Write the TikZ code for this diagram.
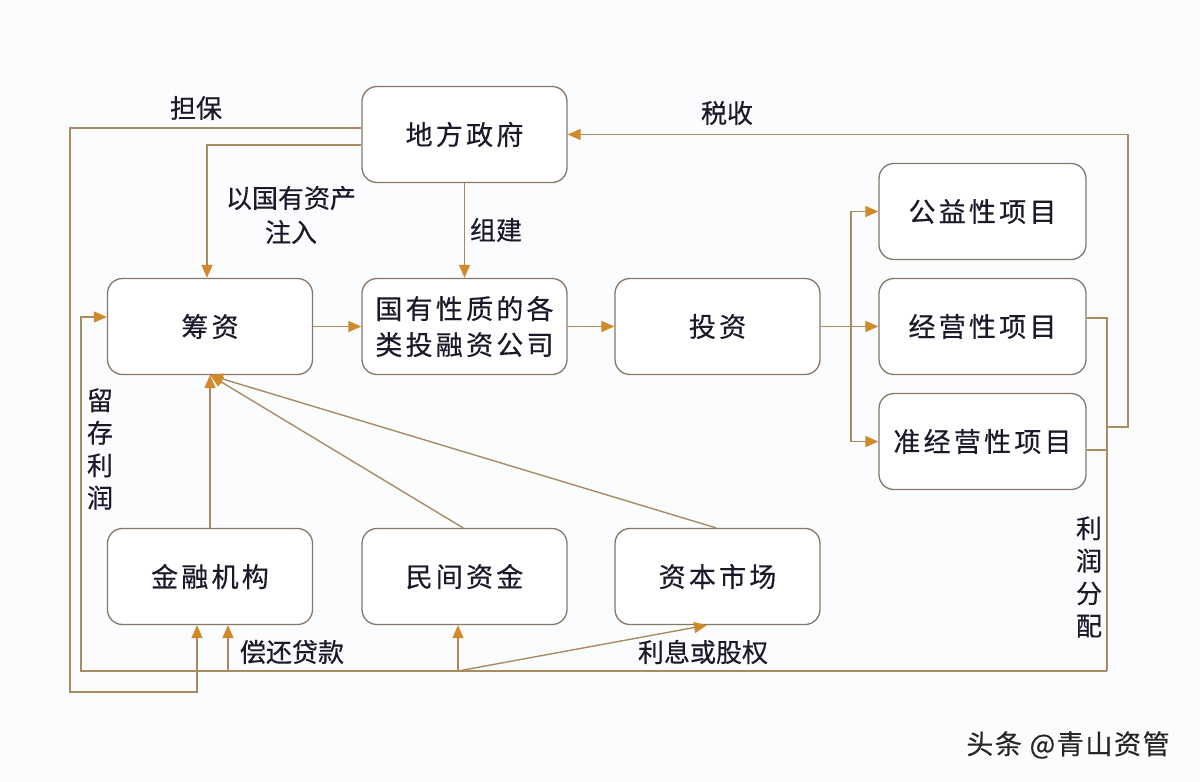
\documentclass[tikz,border=0pt]{standalone}
\usepackage{fontspec}
\setmainfont{Noto Sans CJK SC}
\newfontfamily\cjk{Noto Sans CJK SC}
\usetikzlibrary{arrows.meta}
\definecolor{bgc}{HTML}{FBFCFE}
\definecolor{linec}{HTML}{A98B62}
\definecolor{tipc}{HTML}{D08A2A}
\definecolor{boxc}{HTML}{85786A}
\definecolor{txtc}{HTML}{1A1A2A}
\tikzset{
  box/.style={draw=boxc, line width=1.3pt, rounded corners=15pt, fill=white,
    minimum width=205pt, minimum height=96pt, inner sep=0pt, align=center,
    text=txtc, font=\fontsize{27pt}{36pt}\selectfont\addfontfeature{LetterSpace=12,FakeBold=0.4}},
  conn/.style={draw=linec, line width=1.4pt},
  arr/.style={conn, -{Triangle[length=13pt,width=11pt,fill=tipc,color=tipc]}},
  lab/.style={text=txtc, inner sep=0pt, font=\fontsize{26pt}{33pt}\selectfont\addfontfeature{FakeBold=0.4}},
}
\begin{document}
\begin{tikzpicture}[x=1pt,y=-1pt]
\fill[bgc] (0,0) rectangle (1200,782);
\useasboundingbox (0,0) rectangle (1200,782);

% boxes
\node[box] (gov)  at (464.5,134.5) {地方政府};
\node[box] (chou) at (210,326.5)   {筹资};
\node[box] (guo)  at (464.5,326.5) {国有性质的各\\类投融资公司};
\node[box] (tou)  at (717.5,326.5) {投资};
\node[box, minimum width=207pt] (gy)  at (982.5,211.5) {公益性项目};
\node[box, minimum width=207pt] (jy)  at (982.5,326.5) {经营性项目};
\node[box, minimum width=207pt] (zjy) at (982.5,441.5) {准经营性项目};
\node[box] (jr) at (210,576.5)   {金融机构};
\node[box] (mj) at (464.5,576.5) {民间资金};
\node[box] (zb) at (717.5,576.5) {资本市场};

% helper coordinates
\coordinate (br) at (851,326.5);
\coordinate (rv) at (1107,671);
\coordinate (bl) at (81,671);
\coordinate (p1) at (228,671);
\coordinate (p2) at (458,671);
\coordinate (tx) at (1128,427);
\coordinate (ol) at (70,692);

% 担保
\draw[arr] ([yshift=6.5pt]gov.west) -| (ol) -| ([xshift=-13pt]jr.south);
% 以国有资产注入
\draw[arr] ([yshift=-10.5pt]gov.west) -| ([xshift=-3pt]chou.north);
% 组建
\draw[arr] (gov.south) -- (guo.north);
% main chain
\draw[arr] (chou.east) -- (guo.west);
\draw[arr] (guo.east) -- (tou.west);
\draw[conn] (tou.east) -- (br);
\draw[arr] (br) |- (gy.west);
\draw[arr] (br) -- (jy.west);
\draw[arr] (br) |- (zjy.west);
% profits
\draw[conn] ([yshift=8.5pt]jy.east) -| (rv);
\draw[conn] ([yshift=-8.5pt]zjy.east) -- (1107,450);
% 税收
\draw[arr] (1107,427) -- (tx) |- (gov.east);
% 留存利润
\draw[arr] (rv) -- (bl) |- ([yshift=9.5pt]chou.west);
% 偿还贷款
\draw[arr] (p1) -- ([xshift=18pt]jr.south);
% 利息或股权
\draw[arr] (p2) -- ([xshift=-6.5pt]mj.south);
\draw[arr] (p2) -- ([xshift=-10.5pt]zb.south);
% sources to 筹资
\draw[arr] (jr.north) -- (chou.south);
\draw[arr] ([xshift=-1.5pt]mj.north) -- (chou.south);
\draw[arr] ([xshift=-1.5pt]zb.north) -- (chou.south);

% labels
\node[lab] (l1) at (196,108) {担保};
\node[lab] (l2) at (727,113) {税收};
\node[lab] (l3) at (291,198) {以国有资产};
\node[lab] (l4) at (291,232) {注入};
\node[lab] (l5) at (496,230) {组建};
\node[lab] (l6) at (292,652) {偿还贷款};
\node[lab] (l7) at (703,652) {利息或股权};
\node[lab, align=center, font=\fontsize{26pt}{32.5pt}\selectfont\addfontfeature{FakeBold=0.4}] (l8) at (100,449) {留\\存\\利\\润};
\node[lab, align=center, font=\fontsize{26pt}{32.5pt}\selectfont\addfontfeature{FakeBold=0.4}] (l9) at (1089,577) {利\\润\\分\\配};

% watermark
\node[lab, text=black!85, font=\fontsize{27pt}{33pt}\selectfont\addfontfeature{LetterSpace=6,FakeBold=0.4}] (wm) at (1068,745) {头条 @青山资管};
\end{tikzpicture}
\end{document}
